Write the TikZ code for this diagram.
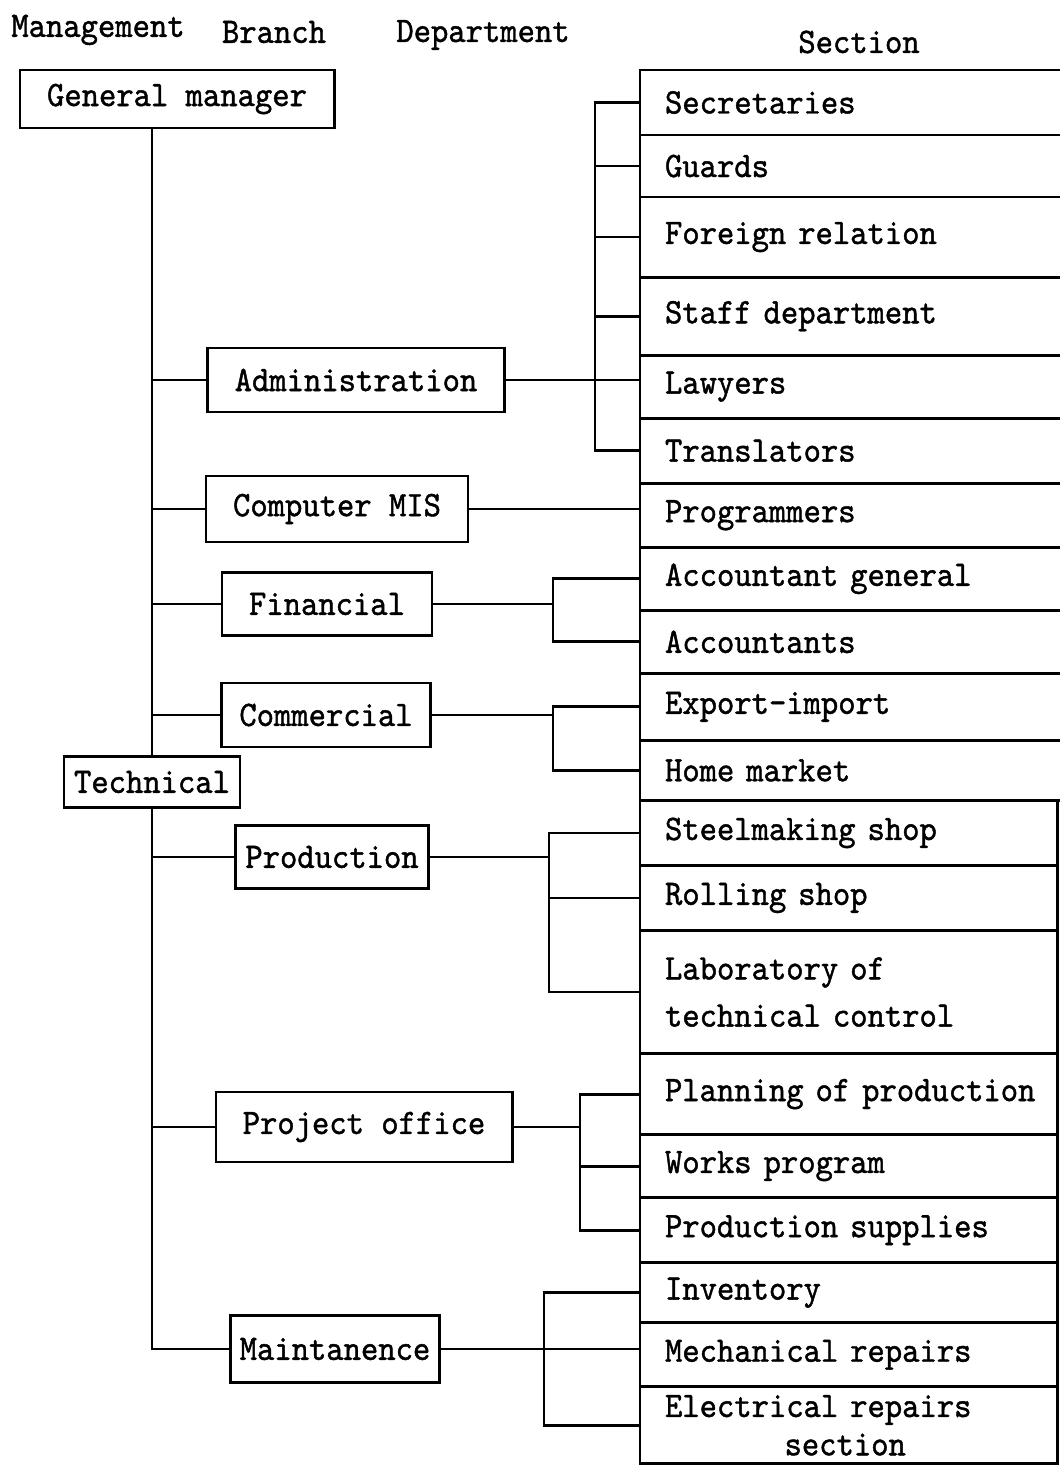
\documentclass[tikz,border=0pt]{standalone}
\usepackage{fontspec}
\newfontfamily\chartfont[Extension=.otf,FakeStretch=0.92,FakeBold=1.2]{lmmono10-regular}
\usepackage{tikz}

\begin{document}
\begin{tikzpicture}[x=0.01cm, y=-0.01cm, line width=0.8pt,
    every node/.style={font=\chartfont\fontsize{10.2pt}{13.4pt}\selectfont, outer sep=0pt},
    unit/.style={draw, inner sep=0pt},
    row/.style={draw, anchor=north west, inner xsep=0.25cm, inner ysep=1pt, text width=3.67cm, align=left},
    rowcut/.style={row, text width=3.91cm}]
      \useasboundingbox (0,0) rectangle (1059,1467);
      % Column heads
      \node (hmgt) at (98,30) {Management};
      \node (hbra) at (274,32) {Branch};
      \node (hdep) at (483,35) {Department};
      \node (hsec) at (859,42) {Section};
      % Management, branch and department boxes
      \node[unit, minimum width=3.14cm, minimum height=0.58cm] (gm) at (177,99) {General manager};
      \node[unit, minimum width=2.97cm, minimum height=0.64cm] (admin) at (356,380) {Administration};
      \node[unit, minimum width=2.62cm, minimum height=0.66cm] (cmis) at (337,509) {Computer MIS};
      \node[unit, minimum width=2.10cm, minimum height=0.63cm] (fin) at (327,604) {Financial};
      \node[unit, minimum width=2.09cm, minimum height=0.64cm] (comm) at (326,715) {Commercial};
      \node[unit, minimum width=1.76cm, minimum height=0.51cm] (tech) at (152,782) {Technical};
      \node[unit, minimum width=1.93cm, minimum height=0.63cm] (prod) at (332,857) {Production};
      \node[unit, minimum width=2.96cm, minimum height=0.70cm] (proj) at (364,1127) {Project office};
      \node[unit, minimum width=2.09cm, minimum height=0.67cm] (maint) at (335,1349) {Maintanence};
      % Section column (upper rows run off the right edge)
      \node[rowcut, minimum height=0.65cm] (secr) at (640,70) {Secretaries};
      \node[rowcut, minimum height=0.62cm] (guar) at (secr.south west) {Guards};
      \node[rowcut, minimum height=0.80cm] (forg) at (guar.south west) {Foreign relation};
      \node[rowcut, minimum height=0.78cm] (staf) at (forg.south west) {Staff department};
      \node[rowcut, minimum height=0.63cm] (lawy) at (staf.south west) {Lawyers};
      \node[rowcut, minimum height=0.65cm] (tran) at (lawy.south west) {Translators};
      \node[rowcut, minimum height=0.64cm] (prog) at (tran.south west) {Programmers};
      \node[rowcut, minimum height=0.63cm] (accg) at (prog.south west) {Accountant general};
      \node[rowcut, minimum height=0.63cm] (accs) at (accg.south west) {Accountants};
      \node[rowcut, minimum height=0.67cm] (expo) at (accs.south west) {Export-import};
      \node[rowcut, minimum height=0.60cm] (home) at (expo.south west) {Home market};
      \node[row, minimum height=0.65cm] (stee) at (home.south west) {Steelmaking shop};
      \node[row, minimum height=0.65cm] (roll) at (stee.south west) {Rolling shop};
      \node[row, minimum height=1.23cm] (labo) at (roll.south west) {Laboratory of\\technical control};
      \node[row, minimum height=0.81cm] (plan) at (labo.south west) {\mbox{Planning of production}};
      \node[row, minimum height=0.63cm] (work) at (plan.south west) {Works program};
      \node[row, minimum height=0.65cm] (psup) at (work.south west) {Production supplies};
      \node[row, minimum height=0.60cm] (inve) at (psup.south west) {Inventory};
      \node[row, minimum height=0.64cm] (mech) at (inve.south west) {Mechanical repairs};
      \node[row, minimum height=0.77cm] (elec) at (mech.south west) {Electrical repairs\\[-2.5pt]\hspace*{34pt}section};
      % Trunk
      \draw (gm.south -| tech.north) -- (tech.north);
      \draw (tech.south) |- (maint.west);
      % Branches off the trunk
      \draw (admin.west -| tech.north) -- (admin.west);
      \draw (cmis.west -| tech.north) -- (cmis.west);
      \draw (fin.west -| tech.north) -- (fin.west);
      \draw (comm.west -| tech.north) -- (comm.west);
      \draw (prod.west -| tech.south) -- (prod.west);
      \draw (proj.west -| tech.south) -- (proj.west);
      % Administration
      \coordinate (adj) at (595,0);
      \draw (admin.east) -- (admin.east -| lawy.west);
      \draw (secr.west) -| (adj |- tran.west) -- (tran.west);
      \draw (guar.west) -- (guar.west -| adj);
      \draw (forg.west) -- (forg.west -| adj);
      \draw (staf.west) -- (staf.west -| adj);
      % Computer MIS
      \draw (cmis.east) -- (cmis.east -| prog.west);
      % Financial
      \coordinate (fij) at (553,0);
      \draw (fin.east) -- (fin.east -| fij);
      \draw (accg.west) -| (fij |- accs.west) -- (accs.west);
      % Commercial
      \coordinate (coj) at (553,0);
      \draw (comm.east) -- (comm.east -| coj);
      \draw (expo.west) -| (coj |- home.west) -- (home.west);
      % Production
      \coordinate (prj) at (549,0);
      \draw (prod.east) -- (prod.east -| prj);
      \draw (stee.west) -| (prj |- labo.west) -- (labo.west);
      \draw (roll.west) -- (roll.west -| prj);
      % Project office
      \coordinate (pij) at (580,0);
      \draw (proj.east) -- (proj.east -| pij);
      \draw (plan.west) -| (pij |- psup.west) -- (psup.west);
      \draw (work.west) -- (work.west -| pij);
      % Maintanence
      \coordinate (maj) at (544,0);
      \draw (maint.east) -- (maint.east -| mech.west);
      \draw (inve.west) -| (maj |- elec.west) -- (elec.west);
    \end{tikzpicture}
\end{document}
